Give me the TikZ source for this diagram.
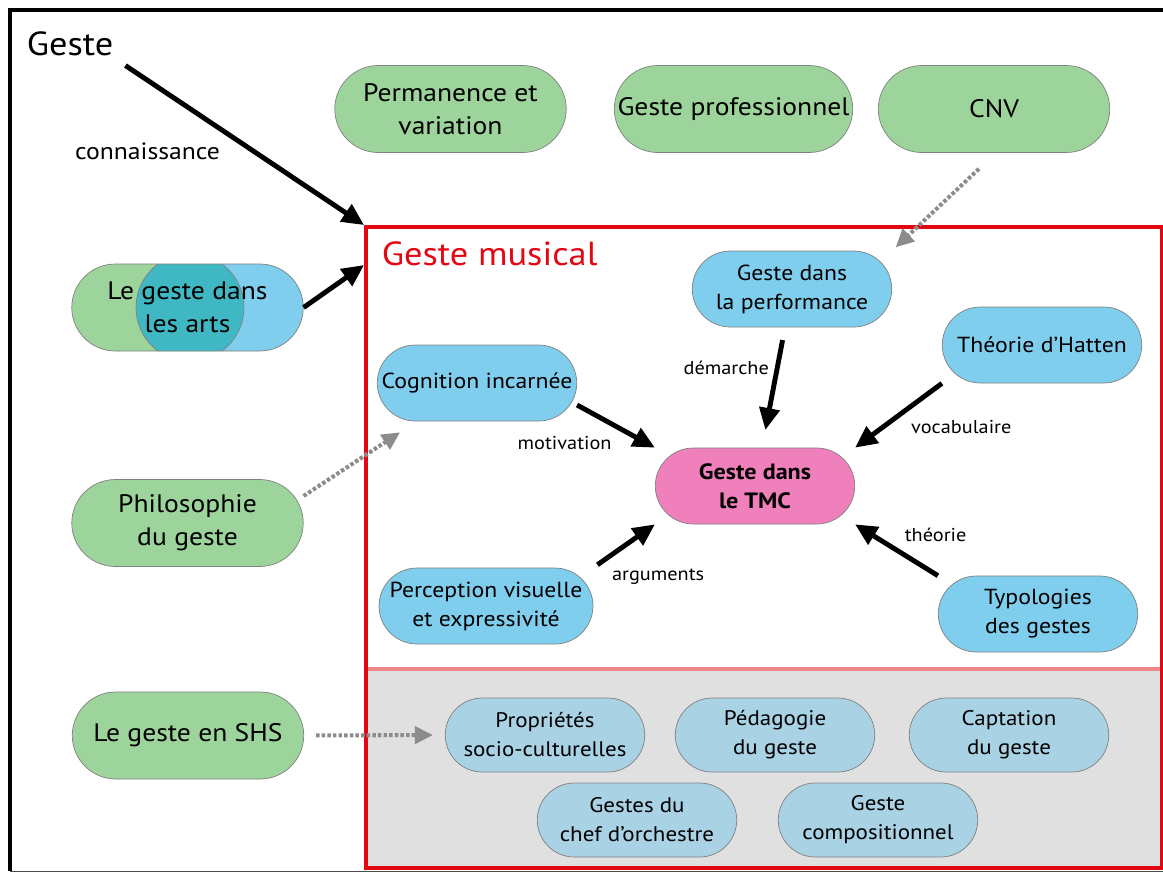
\documentclass[tikz,border=0pt]{standalone}
\usepackage{fontspec}
\setmainfont{PT Sans}[FakeStretch=1.09]
\usetikzlibrary{shapes.misc,arrows.meta,scopes}

\definecolor{vert}{HTML}{9DD49B}
\definecolor{bleu}{HTML}{80CEEE}
\definecolor{bleupale}{HTML}{A9D2E4}
\definecolor{rose}{HTML}{F080BC}
\definecolor{sarcelle}{HTML}{40B8C4}
\definecolor{rouge}{HTML}{E30613}
\definecolor{saumon}{HTML}{F0868E}
\definecolor{fond}{HTML}{E0E0E0}
\definecolor{ombre}{HTML}{8C8C8C}

\begin{document}
\begin{tikzpicture}[x=0.02cm,y=-0.02cm,
    pill/.style={rounded rectangle,draw=gray,thin,align=center,inner sep=1pt},
    theme/.style={pill,fill=vert,minimum width=4.7cm,minimum height=1.74cm,font=\fontsize{14.4}{18.8}\selectfont},
    topic/.style={pill,fill=bleu,minimum width=4.06cm,minimum height=1.52cm,font=\fontsize{12.4}{16.5}\selectfont},
    field/.style={topic,fill=bleupale,minimum height=1.48cm,font=\fontsize{12}{16.5}\selectfont},
    core/.style={topic,fill=rose,font=\bfseries\fontsize{12.6}{16.5}\selectfont},
    title/.style={inner sep=2pt,font=\fontsize{19}{22}\selectfont},
    lbl/.style={font=\fontsize{10.6}{12}\selectfont},
    link/.style={-{Triangle[length=0.44cm,width=0.4cm]},line width=2.8pt},
    hint/.style={-{Triangle[length=0.36cm,width=0.34cm]},draw=ombre,line width=2.3pt,dash pattern=on 2pt off 1.2pt},
]
\useasboundingbox (0,0) rectangle (1163,873);

%%%
% Frame and the musical box
\draw[line width=2.8pt] (1163,10) -- (10,10) -- (10,871);
\draw[gray!60!black,thin] (10,871) -- (1163,871);
\fill[fond] (366,669) rectangle (1162,868);
\draw[saumon,line width=2.2pt] (366,669) -- (1162,669);
\node[draw=rouge,line width=2.3pt,minimum width=15.92cm,minimum height=12.82cm,inner sep=0pt] (mus) at (764,547.5) {};

\node[title] (geste) at (70,44) {Geste};
\node[title,text=rouge,anchor=west] (mustitle) at (378,254) {Geste musical};

%%%
% Outer themes
\node[theme] (perm) at (450.5,109) {Permanence et\\variation};
\node[theme] (prof) at (733.5,109) {Geste professionnel};
\node[theme] (cnv) at (994,109) {CNV};
\node[theme,path picture={
    \fill[bleu] (path picture bounding box.north) rectangle (path picture bounding box.south east);
    \filldraw[fill=sarcelle,draw=gray] ([xshift=0.05cm]path picture bounding box.center) circle [radius=1.08cm];
}] (arts) at (187.5,307.5) {Le geste dans\\les arts};
\node[theme] (philo) at (187.5,523) {Philosophie\\du geste};
\node[theme] (shs) at (188,735.5) {Le geste en SHS};

%%%
% Inside the musical box
\node[topic] (perf) at (792,289) {Geste dans\\la performance};
\node[topic] (hatten) at (1042,345) {Théorie d’Hatten};
\node[topic] (cog) at (477,383) {Cognition incarnée};
\node[core] (tmc) at (755,486) {Geste dans\\le TMC};
\node[topic] (perc) at (486,606) {Perception visuelle\\et expressivité};
\node[topic] (typ) at (1038,614) {Typologies\\des gestes};

\node[field] (propr) at (545,735) {Propriétés\\socio-culturelles};
\node[field] (peda) at (775,735) {Pédagogie\\du geste};
\node[field] (capt) at (1009,735) {Captation\\du geste};
\node[field] (chef) at (637,820) {Gestes du\\chef d’orchestre};
\node[field] (compo) at (878,820) {Geste\\compositionnel};

%%%
% Arrows
\draw[link,shorten <=0.2cm] (geste.south east) -- (mus.north west) node[lbl,font=\fontsize{13.4}{15}\selectfont,pos=0.45,below left] {connaissance};
\draw[link] (arts.east) -- ([yshift=-0.8cm]mus.north west);
{[hint]
    \draw ([yshift=0.54cm]philo.east) -- ([xshift=-1.54cm,yshift=-0.22cm]cog.south);
    \draw[shorten <=0.24cm,shorten >=0.24cm] (shs.east) -- (propr.west);
    \draw[shorten >=0.1cm] ([xshift=-0.3cm,yshift=-0.32cm]cnv.south) -- (perf.east |- perf.north);
}
\draw[link] ([yshift=-0.44cm]cog.east) -- (tmc.west |- tmc.north) node[lbl,pos=0.55,below left] {motivation};
\draw[link,shorten <=0.1cm] (perc.east |- perc.north) -- (tmc.west |- tmc.south) node[lbl,pos=0.17,below right] {arguments};
\draw[link,shorten <=0.26cm,shorten >=0.36cm] ([xshift=-0.14cm]perf.south) -- ([xshift=0.14cm]tmc.north) node[lbl,pos=0.34,left] {démarche};
\draw[link] (hatten.west |- hatten.south) -- (tmc.east |- tmc.north) node[lbl,pos=0.45,below right] {vocabulaire};
\draw[link] (typ.west |- typ.north) -- (tmc.east |- tmc.south) node[lbl,pos=0.5,above right] {théorie};
\end{tikzpicture}
\end{document}
